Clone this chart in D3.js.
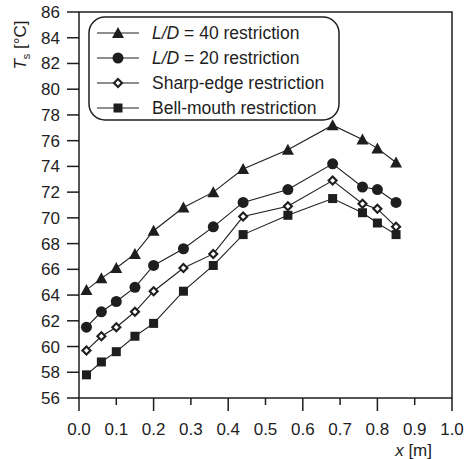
<!DOCTYPE html>
<html>
<head>
<meta charset="utf-8">
<script src="https://cdn.jsdelivr.net/npm/d3@7"></script>
<style>
  body { margin: 0; background: #fff; }
  svg { display: block; font-family: "Liberation Sans", Arial, sans-serif; }
</style>
</head>
<body>
<div id="chart"></div>
<script>
// Measured positions along the pipe (m)
const xPos = [0.02, 0.06, 0.10, 0.15, 0.20, 0.28, 0.36, 0.44, 0.56, 0.68, 0.76, 0.80, 0.85];

// Surface temperature Ts (°C) per restriction type
const ld40 = [64.4, 65.3, 66.1, 67.2, 69.0, 70.8, 72.0, 73.8, 75.3, 77.2, 76.1, 75.4, 74.3];
const ld20 = [61.5, 62.7, 63.5, 64.6, 66.3, 67.6, 69.3, 71.2, 72.2, 74.2, 72.4, 72.2, 71.2];
const sharpEdge = [59.7, 60.8, 61.5, 62.7, 64.3, 66.1, 67.2, 70.1, 70.9, 72.9, 71.1, 70.7, 69.3];
const bellMouth = [57.8, 58.8, 59.6, 60.8, 61.8, 64.3, 66.3, 68.7, 70.2, 71.5, 70.4, 69.6, 68.7];

const xTicks = [0, 0.1, 0.2, 0.3, 0.4, 0.5, 0.6, 0.7, 0.8, 0.9, 1.0];
const yTicks = [56, 58, 60, 62, 64, 66, 68, 70, 72, 74, 76, 78, 80, 82, 84, 86];

const series = [
  { key: "ld40", values: ld40, marker: "triangle", pre: "L/D", post: " = 40 restriction" },
  { key: "ld20", values: ld20, marker: "circle", pre: "L/D", post: " = 20 restriction" },
  { key: "sharp", values: sharpEdge, marker: "diamond", pre: "", post: "Sharp-edge restriction" },
  { key: "bell", values: bellMouth, marker: "square", pre: "", post: "Bell-mouth restriction" }
];

const W = 466, H = 459;
const ink = "#1e1e1e";
const margin = { left: 79, right: 14, top: 12, bottom: 61 };

const svg = d3.select("#chart").append("svg")
  .attr("width", W).attr("height", H);

const x = d3.scaleLinear().domain([0, 1]).range([margin.left, W - margin.right]);
const y = d3.scaleLinear().domain([56, 86]).range([H - margin.bottom, margin.top]);

// frame
svg.append("rect")
  .attr("x", x(0)).attr("y", y(86))
  .attr("width", x(1) - x(0)).attr("height", y(56) - y(86))
  .attr("fill", "none").attr("stroke", ink).attr("stroke-width", 1.5);

// x axis: big ticks on even tenths, small ones between
const xAxis = svg.append("g").attr("transform", "translate(0," + y(56) + ")");
xAxis.selectAll("line").data(xTicks).join("line")
  .attr("x1", d => x(d)).attr("x2", d => x(d))
  .attr("y1", 0).attr("y2", (d, i) => i % 2 === 0 ? 13 : 7)
  .attr("stroke", ink).attr("stroke-width", 1.5);
xAxis.selectAll("text").data(xTicks).join("text")
  .attr("x", d => x(d)).attr("y", 37)
  .attr("text-anchor", "middle")
  .attr("font-size", 17).attr("fill", ink)
  .text(d => d3.format(".1f")(d));

svg.append("text")
  .attr("x", 432).attr("y", 456)
  .attr("text-anchor", "end").attr("font-size", 17).attr("fill", ink)
  .call(t => {
    t.append("tspan").attr("font-style", "italic").text("x");
    t.append("tspan").text(" [m]");
  });

// y axis
const yAxis = svg.append("g").attr("transform", "translate(" + x(0) + ",0)");
yAxis.selectAll("line").data(yTicks).join("line")
  .attr("x1", -12).attr("x2", 0)
  .attr("y1", d => y(d)).attr("y2", d => y(d))
  .attr("stroke", ink).attr("stroke-width", 1.5);
yAxis.selectAll("text").data(yTicks).join("text")
  .attr("x", -19).attr("y", d => y(d) + 6)
  .attr("text-anchor", "end")
  .attr("font-size", 17).attr("fill", ink)
  .text(d => d);

svg.append("text")
  .attr("transform", "translate(26,45) rotate(-90)")
  .attr("text-anchor", "middle").attr("font-size", 17).attr("fill", ink)
  .call(t => {
    t.append("tspan").attr("font-style", "italic").text("T");
    t.append("tspan").attr("font-size", 11).attr("dy", 4).text("s");
    t.append("tspan").attr("dy", -4).text(" [°C]");
  });

// marker drawing
function drawMarker(g, type) {
  if (type === "triangle") {
    g.append("path").attr("d", "M0,-6L6,5L-6,5Z").attr("fill", ink);
  } else if (type === "circle") {
    g.append("circle").attr("r", 5.5).attr("fill", ink);
  } else if (type === "square") {
    g.append("rect").attr("x", -4.5).attr("y", -4.5).attr("width", 9).attr("height", 9).attr("fill", ink);
  } else {
    g.append("path").attr("d", "M0,-5.5L5.5,0L0,5.5L-5.5,0Z").attr("fill", ink);
    g.append("path").attr("d", "M0,-2.5L2.5,0L0,2.5L-2.5,0Z").attr("fill", "#fff");
  }
}

const line = d3.line().x(d => x(d[0])).y(d => y(d[1]));

series.forEach(s => {
  const pts = xPos.map((xv, i) => [xv, s.values[i]]);
  svg.append("path").datum(pts)
    .attr("d", line).attr("fill", "none")
    .attr("stroke", ink).attr("stroke-width", 1.1);
  svg.append("g").selectAll("g").data(pts).join("g")
    .attr("transform", d => "translate(" + x(d[0]) + "," + y(d[1]) + ")")
    .each(function () { drawMarker(d3.select(this), s.marker); });
});

// legend
const leg = svg.append("g");
leg.append("rect")
  .attr("x", 89).attr("y", 17).attr("width", 250).attr("height", 103)
  .attr("rx", 16).attr("ry", 16)
  .attr("fill", "#fff").attr("stroke", ink).attr("stroke-width", 1.5);

series.forEach((s, i) => {
  const cy = 33 + i * 25;
  const row = leg.append("g").attr("transform", "translate(0," + cy + ")");
  row.append("line").attr("x1", 97).attr("x2", 139).attr("y1", 0).attr("y2", 0)
    .attr("stroke", ink).attr("stroke-width", 1.1);
  drawMarker(row.append("g").attr("transform", "translate(118,0)"), s.marker);
  const t = row.append("text").attr("x", 152).attr("y", 6)
    .attr("font-size", 17.5).attr("fill", ink);
  if (s.pre) t.append("tspan").attr("font-style", "italic").text(s.pre);
  t.append("tspan").text(s.post);
});
</script>
</body>
</html>
